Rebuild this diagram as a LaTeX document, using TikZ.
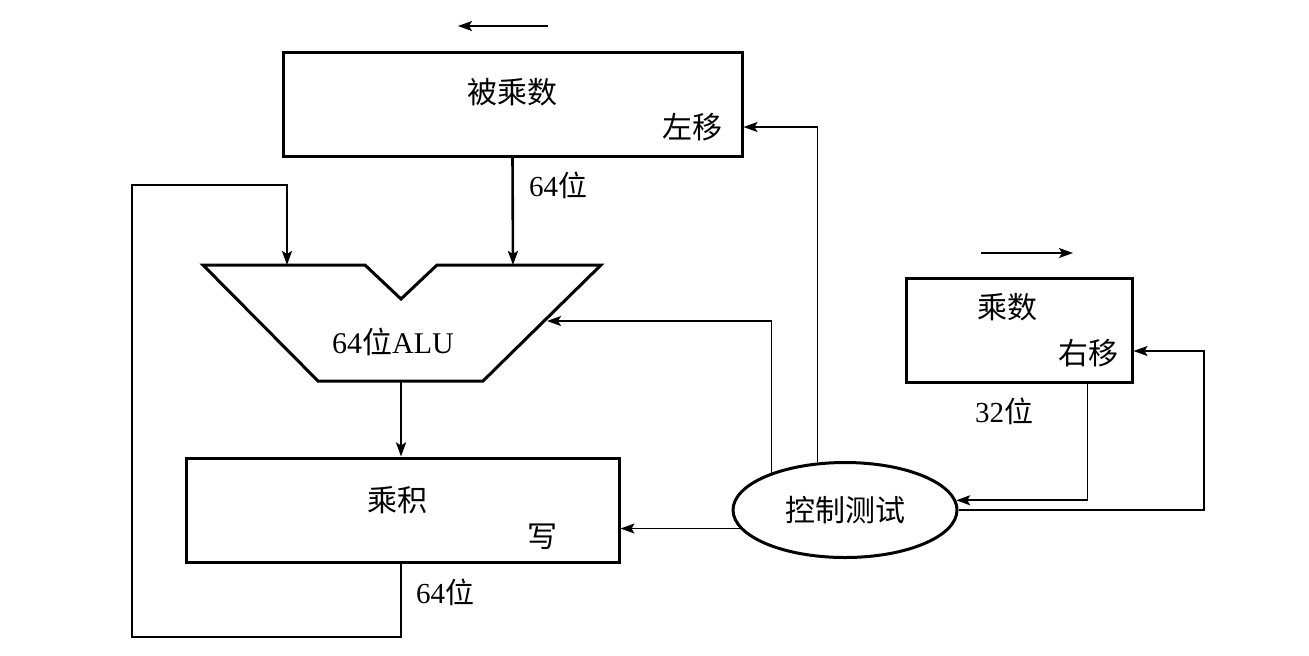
\documentclass[tikz,border=0pt]{standalone}
\usepackage{fontspec}
\setmainfont{Liberation Serif}
\newfontfamily\cjk{Noto Sans CJK SC}
\usetikzlibrary{arrows.meta,fit,shapes.geometric}
\begin{document}
\begin{tikzpicture}[x=0.5pt,y=-0.5pt,
  box/.style={draw,line width=1.5pt,inner sep=0pt},
  tip/.style={-{Stealth[length=7pt,width=5pt,inset=1.5pt]}},
  bus/.style={line width=1.3pt,tip},
  ctl/.style={line width=0.8pt,tip},
  lbl/.style={font=\cjk\fontsize{15pt}{18pt}\selectfont,inner sep=0pt},
  bits/.style={font=\fontsize{14.5pt}{17pt}\selectfont,inner sep=0pt}]
\useasboundingbox (0,0) rectangle (1309,655);

% multiplicand
\node[box,fit={(283,52)(742,156)}] (mcand) {};
\node[lbl] (mcandt) at (512,92) {被乘数};
\node[lbl] (shl) at (692,127) {左移};
\coordinate (la1) at (548,26);
\coordinate (la2) at (458,26);
\draw[ctl] (la1) -- (la2);
\node[bits] (b1) at (558,185) {64{\cjk 位}};

% ALU
\draw[line width=1.5pt] (203,265) -- (365,265) -- (401,299) -- (437,265)
  -- (601,265) -- (483,381) -- (318,381) -- cycle;
\node[font=\fontsize{15pt}{18pt}\selectfont,inner sep=0pt] (alut) at (393,342) {64{\cjk 位}ALU};
\coordinate (alua) at (287,265);
\coordinate (alub) at (513,265);
\coordinate (aluo) at (401,381);
\coordinate (aluc) at (547,321);

% product
\node[box,fit={(186,458)(619,562)}] (prod) {};
\node[lbl] (prodt) at (397,500) {乘积};
\node[lbl] (wr) at (542,537) {写};
\node[bits] (b3) at (445,592) {64{\cjk 位}};

% multiplier
\node[box,fit={(906,278)(1132,382)}] (mplier) {};
\node[lbl] (mpliert) at (1007,307) {乘数};
\node[lbl] (shr) at (1088,353) {右移};
\coordinate (ra1) at (981,253);
\coordinate (ra2) at (1073,253);
\draw[ctl] (ra1) -- (ra2);
\node[bits] (b2) at (1004,411) {32{\cjk 位}};

% control
\node[draw,ellipse,line width=1.5pt,minimum width=112pt,minimum height=47.5pt,
  inner sep=0pt,font=\cjk\fontsize{15pt}{18pt}\selectfont] (ctrl) at (845,510) {控制测试};

% buses
\draw[bus] (mcand.south) -- (alub);
\draw[bus] (aluo) -- (aluo |- prod.north);
\coordinate (loopa) at (132,637);
\coordinate (loopb) at (132,185);
\draw[bus] (prod.south -| aluo) -- (aluo |- loopa) -- (loopa) -- (loopb) -| (alua);

% control lines
\draw[ctl] (ctrl.153.2) |- (aluc);
\draw[ctl] (ctrl.120.4) |- (mcand.east |- shl);
\draw[ctl] (ctrl.190.5) -- (ctrl.190.5 -| prod.east);
\draw[ctl] ([xshift=-23pt]mplier.south east) |- (ctrl.5.8);
\coordinate (rr) at (1204,351);
\draw[ctl] (ctrl.east) -| (rr) -- (rr -| mplier.east);
\end{tikzpicture}
\end{document}
